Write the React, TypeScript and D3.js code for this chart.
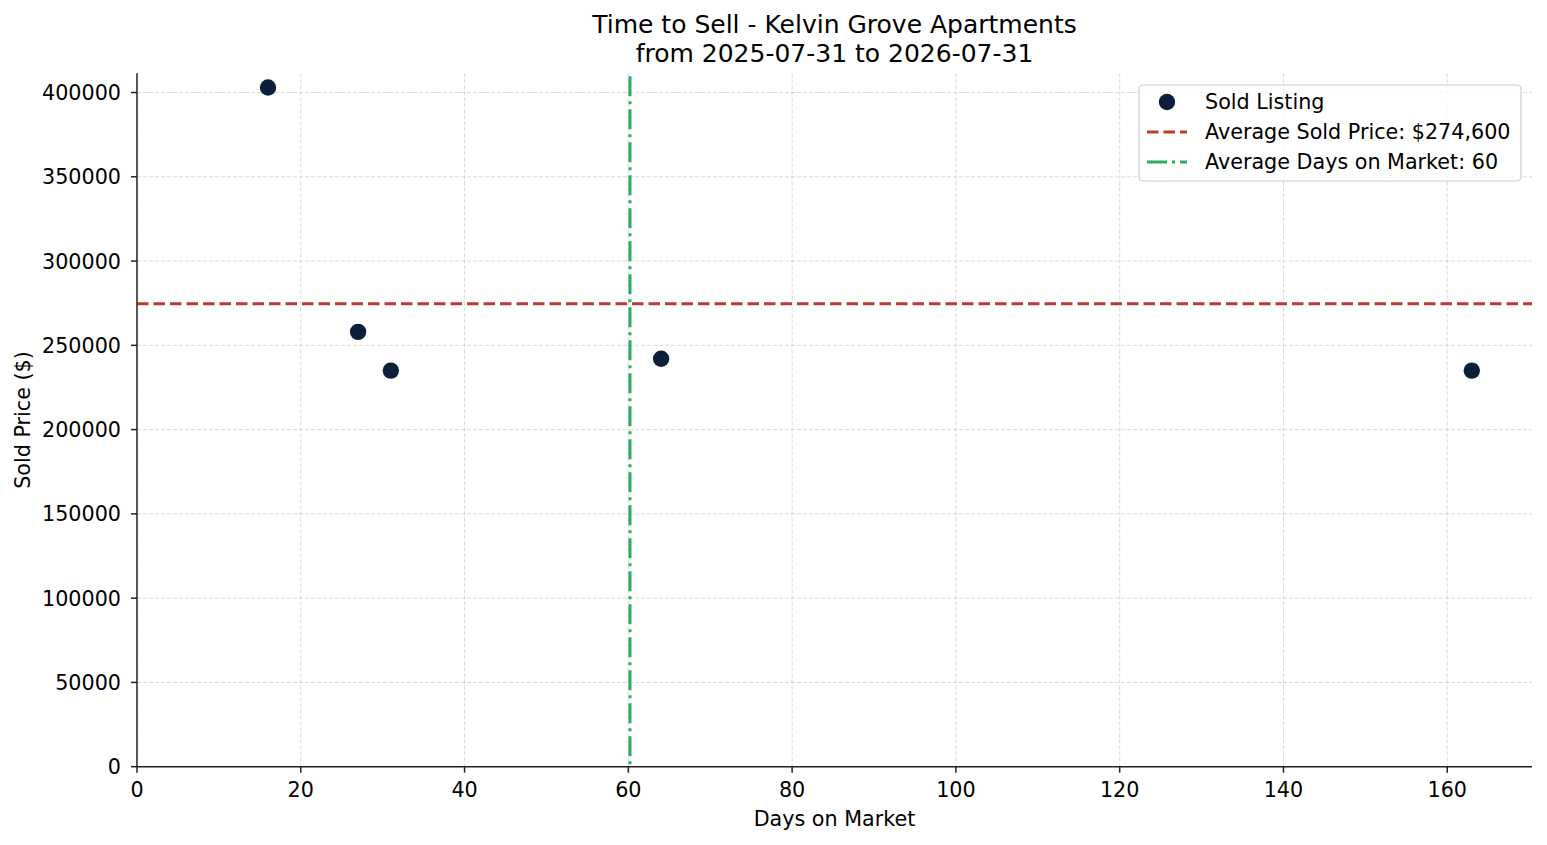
import React from "react";
import * as d3 from "d3";

const days = [16, 27, 31, 64, 163];
const prices = [403000, 258000, 235000, 242000, 235000];
const xTicks = [0, 20, 40, 60, 80, 100, 120, 140, 160];
const yTicks = [0, 50000, 100000, 150000, 200000, 250000, 300000, 350000, 400000];
const titleLines = ["Time to Sell - Kelvin Grove Apartments", "from 2025-07-31 to 2026-07-31"];
const legendLabels = ["Sold Listing", "Average Sold Price: $274,600", "Average Days on Market: 60"];

const W = 1547;
const H = 845;
const M = { left: 137, right: 1532, top: 73.3, bottom: 766.7 };
const FONT = "DejaVu Sans, sans-serif";
const FS = 20.7;

export default function App() {
  const avgDays = d3.mean(days) as number;
  const avgPrice = d3.mean(prices) as number;
  const xMax = d3.max(days)! + 0.05 * (d3.max(days)! - d3.min(days)!);
  const yMax = d3.max(prices)! + 0.05 * (d3.max(prices)! - d3.min(prices)!);
  const x = d3.scaleLinear().domain([0, xMax]).range([M.left, M.right]);
  const y = d3.scaleLinear().domain([0, yMax]).range([M.bottom, M.top]);
  const navy = "#0b1f3a";
  const red = "#c0392b";
  const green = "#27ae60";
  const redDash = "11.5,5";
  const greenDash = "20,5,3,5";
  const cx = (M.left + M.right) / 2;
  const cy = (M.top + M.bottom) / 2;

  return (
    <svg width={W} height={H} style={{ position: "absolute", left: 0, top: 0, background: "#fff" }} fontFamily={FONT}>
      {/* grid */}
      {xTicks.map((t) => (
        <line key={"gx" + t} x1={x(t)} x2={x(t)} y1={M.top} y2={M.bottom} stroke="#b0b0b0" strokeOpacity={0.6} strokeWidth={0.8} strokeDasharray="4,2" />
      ))}
      {yTicks.map((t) => (
        <line key={"gy" + t} x1={M.left} x2={M.right} y1={y(t)} y2={y(t)} stroke="#b0b0b0" strokeOpacity={0.6} strokeWidth={0.8} strokeDasharray="4,2" />
      ))}
      {/* avg lines */}
      <line x1={M.left} x2={M.right} y1={y(avgPrice)} y2={y(avgPrice)} stroke={red} strokeWidth={3} strokeDasharray={redDash} />
      <line x1={x(avgDays)} x2={x(avgDays)} y1={M.top + 3} y2={M.bottom} stroke={green} strokeWidth={3} strokeDasharray={greenDash} />
      {/* points */}
      {days.map((d, i) => (
        <circle key={"p" + i} cx={x(d)} cy={y(prices[i])} r={8.2} fill={navy} />
      ))}
      {/* spines */}
      <line x1={M.left} x2={M.left} y1={M.top} y2={M.bottom} stroke="#222" strokeWidth={1.5} />
      <line x1={M.left} x2={M.right} y1={M.bottom} y2={M.bottom} stroke="#222" strokeWidth={1.5} />
      {/* ticks */}
      {xTicks.map((t) => (
        <g key={"tx" + t}>
          <line x1={x(t)} x2={x(t)} y1={M.bottom} y2={M.bottom + 6} stroke="#222" strokeWidth={1.5} />
          <text x={x(t)} y={797} textAnchor="middle" fontSize={FS} fill="#000">{t}</text>
        </g>
      ))}
      {yTicks.map((t) => (
        <g key={"ty" + t}>
          <line x1={M.left - 6} x2={M.left} y1={y(t)} y2={y(t)} stroke="#222" strokeWidth={1.5} />
          <text x={M.left - 16} y={y(t)} dy="0.36em" textAnchor="end" fontSize={FS} fill="#000">{t}</text>
        </g>
      ))}
      {/* labels */}
      <text x={cx} y={826} textAnchor="middle" fontSize={FS} fill="#000">Days on Market</text>
      <text transform={`translate(30,${cy}) rotate(-90)`} textAnchor="middle" fontSize={FS} fill="#000">Sold Price ($)</text>
      {titleLines.map((l, i) => (
        <text key={"t" + i} x={cx} y={33 + i * 29} textAnchor="middle" fontSize={25} fill="#000">{l}</text>
      ))}
      {/* legend */}
      <g>
        <rect x={1139} y={85} width={382} height={96} rx={4} fill="#fff" fillOpacity={0.8} stroke="#cccccc" strokeWidth={1.2} />
        <circle cx={1167} cy={102} r={8.2} fill={navy} />
        <line x1={1147} x2={1187} y1={132} y2={132} stroke={red} strokeWidth={3} strokeDasharray={redDash} />
        <line x1={1147} x2={1187} y1={162} y2={162} stroke={green} strokeWidth={3} strokeDasharray={greenDash} />
        {legendLabels.map((l, i) => (
          <text key={"l" + i} x={1205} y={102 + i * 30} dy="0.36em" fontSize={FS} fill="#000">{l}</text>
        ))}
      </g>
    </svg>
  );
}
